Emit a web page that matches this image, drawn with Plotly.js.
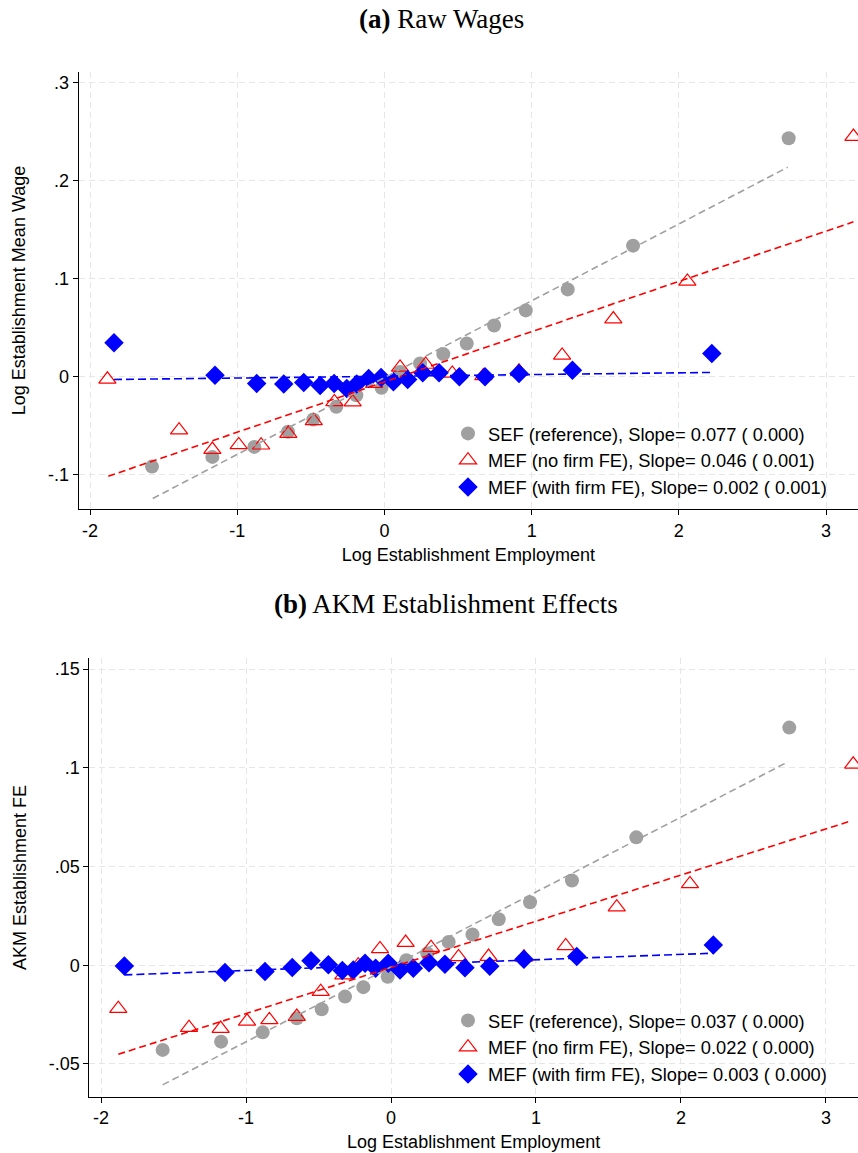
<!DOCTYPE html>
<html><head><meta charset="utf-8">
<script src="https://cdn.plot.ly/plotly-3.0.1.min.js"></script>
<style>html,body{margin:0;padding:0;background:#fff;}#chart{width:858px;height:1153px;}</style>
</head><body><div id="chart"></div>
<script>
// ---- tick labels ----
const xTicks = [-2, -1, 0, 1, 2, 3];
const xTickText = ['-2', '-1', '0', '1', '2', '3'];
const yTicksA = [-0.1, 0, 0.1, 0.2, 0.3];
const yTickTextA = ['-.1', '0', '.1', '.2', '.3'];
const yTicksB = [-0.05, 0, 0.05, 0.1, 0.15];
const yTickTextB = ['-.05', '0', '.05', '.1', '.15'];

// ---- legend labels ----
const namesA = ['SEF (reference), Slope= 0.077 ( 0.000)', 'MEF (no firm FE), Slope= 0.046 ( 0.001)', 'MEF (with firm FE), Slope= 0.002 ( 0.001)'];
const namesB = ['SEF (reference), Slope= 0.037 ( 0.000)', 'MEF (no firm FE), Slope= 0.022 ( 0.000)', 'MEF (with firm FE), Slope= 0.003 ( 0.000)'];

// ---- panel (a) Raw Wages ----
const sefXA = [-1.579, -1.169, -0.884, -0.655, -0.483, -0.327, -0.191, -0.020, 0.106, 0.242, 0.400, 0.559, 0.745, 0.960, 1.245, 1.689, 2.746];
const sefYA = [-0.0915, -0.0816, -0.0714, -0.056, -0.0435, -0.0306, -0.0187, -0.0112, 0.005, 0.0137, 0.0232, 0.034, 0.0524, 0.0677, 0.0891, 0.1337, 0.2432];
const mefXA = [-1.882, -1.395, -1.169, -0.990, -0.838, -0.653, -0.480, -0.340, -0.216, -0.070, 0.106, 0.280, 0.461, 0.672, 0.914, 1.207, 1.555, 2.058, 3.186];
const mefYA = [-0.0025, -0.0544, -0.0741, -0.0694, -0.0697, -0.0578, -0.0449, -0.0255, -0.0258, -0.007, 0.0096, 0.0126, 0.0035, 0.001, 0.0056, 0.0218, 0.0589, 0.0973, 0.2449];
const fexXA = [-1.837, -1.151, -0.868, -0.684, -0.548, -0.437, -0.342, -0.256, -0.188, -0.107, -0.023, 0.061, 0.158, 0.260, 0.371, 0.509, 0.683, 0.914, 1.277, 2.224];
const fexYA = [0.0347, 0.0017, -0.0068, -0.0074, -0.0057, -0.0088, -0.0068, -0.0119, -0.0074, -0.0017, -0.0007, -0.0051, -0.0027, 0.0041, 0.0041, 0.0, 0.0, 0.0034, 0.0068, 0.0239];
// fitted lines (end points)
const sefFitXA = [-1.574, 2.740], sefFitYA = [-0.124, 0.2137];
const mefFitXA = [-1.876, 3.186], mefFitYA = [-0.1013, 0.158];
const fexFitXA = [-1.837, 2.224], fexFitYA = [-0.0027, 0.0045];

// ---- panel (b) AKM Establishment Effects ----
const sefXB = [-1.575, -1.172, -0.885, -0.650, -0.478, -0.317, -0.191, -0.023, 0.106, 0.250, 0.398, 0.562, 0.743, 0.959, 1.248, 1.692, 2.747];
const sefYB = [-0.0429, -0.0387, -0.034, -0.0269, -0.0223, -0.0159, -0.0111, -0.0058, 0.0025, 0.006, 0.0118, 0.0156, 0.0233, 0.0319, 0.0429, 0.0648, 0.1204];
const mefXB = [-1.881, -1.393, -1.175, -0.993, -0.839, -0.650, -0.485, -0.329, -0.226, -0.076, 0.101, 0.276, 0.466, 0.673, 0.917, 1.205, 1.557, 2.062, 3.188];
const mefYB = [-0.022, -0.0316, -0.0321, -0.0284, -0.0277, -0.026, -0.0134, -0.005, 0.0, 0.0083, 0.0115, 0.0089, 0.0042, 0.0044, 0.004, 0.0098, 0.0294, 0.0412, 0.1018];
const fexXB = [-1.839, -1.145, -0.869, -0.681, -0.552, -0.432, -0.336, -0.260, -0.179, -0.106, -0.019, 0.062, 0.154, 0.262, 0.372, 0.510, 0.681, 0.917, 1.281, 2.223];
const fexYB = [-0.0004, -0.0037, -0.0032, -0.0012, 0.0023, 0.0002, -0.0027, -0.0024, 0.001, -0.0015, 0.001, -0.0024, -0.0015, 0.0013, 0.0005, -0.0013, -0.0005, 0.003, 0.0044, 0.0103];
const sefFitXB = [-1.575, 2.740], sefFitYB = [-0.0606, 0.1031];
const mefFitXB = [-1.881, 3.172], mefFitYB = [-0.0451, 0.0731];
const fexFitXB = [-1.839, 2.223], fexFitYB = [-0.0049, 0.0061];

const GREY = '#a0a0a0', RED = '#ff0000', BLUE = '#0000ff';
const FONT = 'Liberation Sans, Arial, sans-serif';

function panel(xa, ya, legendId, names, d) {
  const mk = (x, y, name, marker) => ({type: 'scatter', mode: 'markers', x, y, name, marker, xaxis: xa, yaxis: ya, legend: legendId, cliponaxis: true});
  const ln = (x, y, color, dash) => ({type: 'scatter', mode: 'lines', x, y, line: {color, width: 1.6, dash}, showlegend: false, xaxis: xa, yaxis: ya, hoverinfo: 'skip'});
  return [
    mk(d[0], d[1], names[0], {symbol: 'circle', size: 14, color: GREY}),
    mk(d[2], d[3], names[1], {symbol: 'triangle-up-open', size: 15, color: RED, line: {width: 1.2, color: RED}}),
    mk(d[4], d[5], names[2], {symbol: 'diamond', size: 15, color: BLUE}),
    ln(d[6], d[7], GREY, '7px,4px'),
    ln(d[8], d[9], RED, '7px,4px'),
    ln(d[10], d[11], BLUE, '8px,4px')
  ];
}

const data = [].concat(
  panel('x', 'y', 'legend', namesA, [sefXA, sefYA, mefXA, mefYA, fexXA, fexYA, sefFitXA, sefFitYA, mefFitXA, mefFitYA, fexFitXA, fexFitYA]),
  panel('x2', 'y2', 'legend2', namesB, [sefXB, sefYB, mefXB, mefYB, fexXB, fexYB, sefFitXB, sefFitYB, mefFitXB, mefFitYB, fexFitXB, fexFitYB])
);

const W = 858, H = 1153;
const axisCommon = {
  showline: true, linecolor: '#000', linewidth: 1, mirror: false,
  ticks: 'outside', ticklen: 5, tickcolor: '#000', tickwidth: 1,
  showgrid: true, gridcolor: '#e6e6e6', gridwidth: 1, griddash: '6px,4px',
  zeroline: false, tickfont: {family: FONT, size: 18, color: '#000'},
  automargin: false, tickmode: 'array'
};
const titleFont = {family: FONT, size: 18, color: '#000'};
const legendFont = {family: FONT, size: 18.3, color: '#000'};

const layout = {
  width: W, height: H,
  margin: {l: 0, r: 0, t: 0, b: 0},
  paper_bgcolor: '#fff', plot_bgcolor: '#fff',
  showlegend: true,
  xaxis: Object.assign({}, axisCommon, {domain: [78.7 / W, 1], range: [-2.077, 3.217], anchor: 'y', tickvals: xTicks, ticktext: xTickText,
    title: {text: 'Log Establishment Employment', font: titleFont, standoff: 8}}),
  yaxis: Object.assign({}, axisCommon, {domain: [1 - 509.3 / H, 1 - 71.7 / H], range: [-0.135, 0.311], anchor: 'x', tickvals: yTicksA, ticktext: yTickTextA,
    title: {text: 'Log Establishment Mean Wage', font: titleFont, standoff: 17}}),
  xaxis2: Object.assign({}, axisCommon, {domain: [89.3 / W, 1], range: [-2.081, 3.221], anchor: 'y2', tickvals: xTicks, ticktext: xTickText,
    title: {text: 'Log Establishment Employment', font: titleFont, standoff: 8}}),
  yaxis2: Object.assign({}, axisCommon, {domain: [1 - 1096.7 / H, 1 - 658.3 / H], range: [-0.0666, 0.1555], anchor: 'x2', tickvals: yTicksB, ticktext: yTickTextB,
    title: {text: 'AKM Establishment FE', font: titleFont, standoff: 17}}),
  legend: {x: 448 / W, y: 1 - 415 / H, xanchor: 'left', yanchor: 'top', bgcolor: 'rgba(0,0,0,0)', borderwidth: 0, font: legendFont},
  legend2: {x: 448 / W, y: 1 - 1002 / H, xanchor: 'left', yanchor: 'top', bgcolor: 'rgba(0,0,0,0)', borderwidth: 0, font: legendFont},
  annotations: [
    {text: '<b>(a)</b> Raw Wages', xref: 'paper', yref: 'paper', x: 441 / W, y: 1 - 19 / H, xanchor: 'center', yanchor: 'middle', showarrow: false,
      font: {family: 'Liberation Serif, Times New Roman, serif', size: 27, color: '#000'}},
    {text: '<b>(b)</b> AKM Establishment Effects', xref: 'paper', yref: 'paper', x: 446.5 / W, y: 1 - 604 / H, xanchor: 'center', yanchor: 'middle', showarrow: false,
      font: {family: 'Liberation Serif, Times New Roman, serif', size: 27, color: '#000'}}
  ]
};

Plotly.newPlot('chart', data, layout, {staticPlot: true, displayModeBar: false});
</script>
</body></html>
